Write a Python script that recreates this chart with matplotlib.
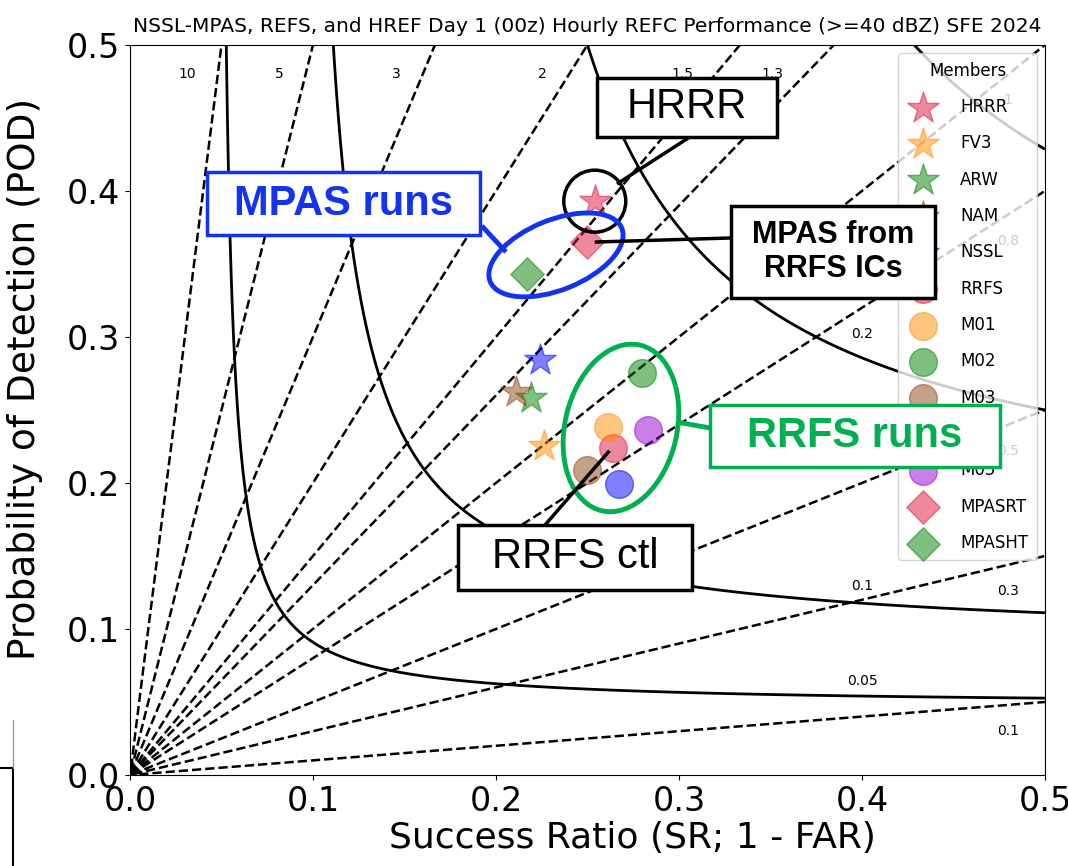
import numpy as np
import matplotlib
matplotlib.use("Agg")
import matplotlib.pyplot as plt
from matplotlib.patches import Ellipse, Rectangle
from matplotlib.transforms import IdentityTransform

# Member scores: success ratio and probability of detection
href_names = ["HRRR", "FV3", "ARW", "NAM", "NSSL"]
href_sr = [0.254, 0.226, 0.219, 0.211, 0.224]
href_pod = [0.393, 0.225, 0.258, 0.262, 0.284]

rrfs_names = ["RRFS", "M01", "M02", "M03", "M04", "M05"]
rrfs_sr = [0.264, 0.261, 0.280, 0.250, 0.267, 0.283]
rrfs_pod = [0.224, 0.238, 0.275, 0.209, 0.199, 0.236]

mpas_names = ["MPASRT", "MPASHT"]
mpas_sr = [0.250, 0.217]
mpas_pod = [0.365, 0.343]

member_colors = ["crimson", "darkorange", "green", "saddlebrown", "blue", "darkviolet"]
mpas_colors = ["crimson", "green"]

bias_levels = [0.1, 0.3, 0.5, 0.8, 1, 1.3, 1.5, 2, 3, 5, 10]
csi_levels = [0.05, 0.1, 0.2, 0.3, 0.4, 0.5, 0.6, 0.7, 0.8, 0.9]

title = "NSSL-MPAS, REFS, and HREF Day 1 (00z) Hourly REFC Performance (>=40 dBZ) SFE 2024"

fig = plt.figure(figsize=(10.68, 8.66), dpi=100)
ax = fig.add_axes([0.1217, 0.1051, 0.8567, 0.8430])

# background bias / CSI contours
grid = np.linspace(0.0005, 0.5, 600)
sr_g, pod_g = np.meshgrid(grid, grid)
bias = pod_g / sr_g
csi = 1.0 / (1.0 / sr_g + 1.0 / pod_g - 1.0)
ax.contour(sr_g, pod_g, bias, bias_levels, colors="k", linestyles="dashed", linewidths=1.8)
ax.contour(sr_g, pod_g, csi, csi_levels, colors="k", linestyles="solid", linewidths=2.0)

for b in bias_levels:
    if b > 1:
        ax.text(0.48 / b - 0.012, 0.48, f"{b:g}", ha="right", va="center", fontsize=10)
    else:
        ax.text(0.48, 0.48 * b - 0.018, f"{b:g}", ha="center", va="center", fontsize=10)
for c in csi_levels:
    p = 1.0 / (1.0 / c - 1.0 / 0.4 + 1.0)
    if 0 < p < 0.45:
        ax.text(0.4, p + 0.008 + 0.04 * c, f"{c:g}", ha="center", va="center", fontsize=10)

# members
for n, x, y, col in zip(href_names, href_sr, href_pod, member_colors):
    ax.scatter(x, y, s=570, marker="*", color=col, alpha=0.5, label=n, zorder=3)
for n, x, y, col in zip(rrfs_names, rrfs_sr, rrfs_pod, member_colors):
    ax.scatter(x, y, s=400, marker="o", color=col, alpha=0.5, label=n, zorder=3)
for n, x, y, col in zip(mpas_names, mpas_sr, mpas_pod, mpas_colors):
    ax.scatter(x, y, s=290, marker="D", color=col, alpha=0.5, label=n, zorder=3)

ax.set_xlim(0, 0.5)
ax.set_ylim(0, 0.5)
ax.set_xticks(np.arange(0, 0.51, 0.1))
ax.set_yticks(np.arange(0, 0.51, 0.1))
ax.tick_params(labelsize=24)
ax.set_xlabel("Success Ratio (SR; 1 - FAR)", fontsize=26)
ax.set_ylabel("Probability of Detection (POD)", fontsize=27)
ax.xaxis.set_label_coords(0.549, -0.063)
ax.yaxis.set_label_coords(-0.095, 0.542)
ax.set_title(title, fontsize=14.5, pad=9)

leg = ax.legend(loc="upper right", title="Members", fontsize=12, title_fontsize=12,
                labelspacing=1.1, handletextpad=1.2, borderpad=0.5, scatterpoints=1)
leg.set_zorder(5)

# slide call-outs
blue = "#1433f0"
green = "#00b050"

def box(x0, x1, y0, y1, ec, lw=2.5):
    ax.add_patch(Rectangle((x0, y0), x1 - x0, y1 - y0, fc="white", ec=ec, lw=lw,
                           zorder=10, clip_on=False))

def link(x0, y0, x1, y1, col, lw=2.5):
    ax.plot([x0, x1], [y0, y1], color=col, lw=lw, zorder=10, solid_capstyle="butt", clip_on=False)

def ring(x, y, w, h, ang, col, lw):
    cx, cy = ax.transData.transform((x, y))
    ax.add_patch(Ellipse((cx, cy), w, h, angle=ang, fill=False, ec=col, lw=lw,
                         transform=IdentityTransform(), zorder=10, clip_on=False))

ring(href_sr[0], href_pod[0], 62, 62, 0, "black", 2.5)
link(0.3060, 0.4370, 0.2661, 0.4048, "black")
box(0.2552, 0.3536, 0.4370, 0.4774, "black")
ax.text(0.3044, 0.4572, "HRRR", fontsize=30, family="Liberation Sans", ha="center", va="center", zorder=11)

ring(0.2328, 0.3562, 142, 70, 22, blue, 3.5)
link(0.1923, 0.3760, 0.2055, 0.3582, blue, 3.5)
box(0.0421, 0.1913, 0.3699, 0.4130, blue)
ax.text(0.1167, 0.3914, "MPAS runs", fontsize=30, fontweight="bold", color=blue,
        family="Liberation Sans", ha="center", va="center", zorder=11)

link(0.3284, 0.3678, mpas_sr[0] + 0.004, mpas_pod[0], "black")
box(0.3284, 0.4399, 0.3267, 0.3897, "black")
ax.text(0.3842, 0.3582, "MPAS from\nRRFS ICs", fontsize=22, fontweight="bold", linespacing=1.2,
        family="Liberation Sans", ha="center", va="center", zorder=11)

ring(0.2683, 0.2377, 112, 170, -13, green, 3.5)
link(0.3169, 0.2377, 0.2984, 0.2418, green, 3.5)
box(0.3169, 0.4754, 0.2110, 0.2534, green)
ax.text(0.3962, 0.2322, "RRFS runs", fontsize=30, fontweight="bold", color=green,
        family="Liberation Sans", ha="center", va="center", zorder=11)

link(0.2268, 0.1712, rrfs_sr[0] - 0.002, rrfs_pod[0] - 0.002, "black")
box(0.1792, 0.3071, 0.1267, 0.1712, "black")
ax.text(0.2432, 0.1490, "RRFS ctl", fontsize=30, family="Liberation Sans",
        ha="center", va="center", zorder=11)

# slide frame corner at bottom left
fig.add_artist(plt.Line2D([0, 13 / 1068, 13 / 1068], [98 / 866, 98 / 866, 0], color="black", lw=1.5))
fig.add_artist(plt.Line2D([13 / 1068, 13 / 1068], [98 / 866, 146 / 866], color="0.6", lw=1))

fig.savefig("out.png", dpi=100)
